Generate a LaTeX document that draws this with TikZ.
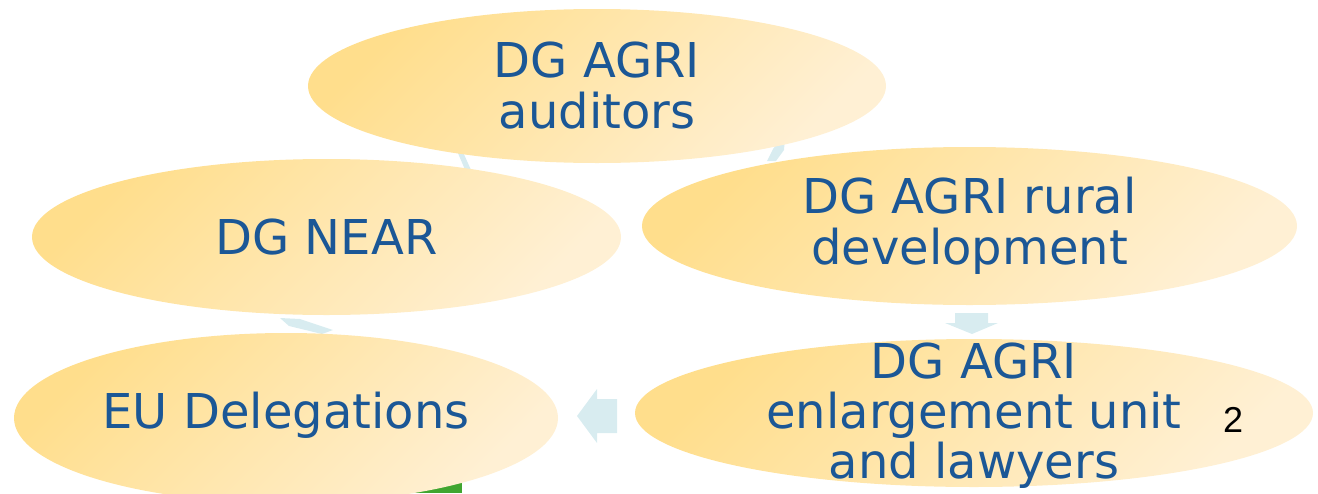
\documentclass[tikz,border=0pt]{standalone}
\usepackage{fontspec}
\setmainfont{DejaVu Sans}
\newfontfamily\numfont{Liberation Sans}
\usetikzlibrary{shapes.geometric}
\definecolor{ellA}{RGB}{255,222,140}
\definecolor{ellB}{RGB}{255,240,212}
\definecolor{txtblue}{RGB}{27,87,150}
\definecolor{arrowblue}{RGB}{216,236,240}
\definecolor{bargreen}{RGB}{64,165,48}
\tikzset{
  ell/.style={ellipse, inner sep=0pt, top color=ellA, bottom color=ellB, shading angle=45,
    text=txtblue, align=center, font=\fontsize{48}{51}\selectfont},
  elltext/.style={text=txtblue, align=center, font=\fontsize{48}{50}\selectfont, inner sep=0pt},
  cyclearrow/.style={fill=arrowblue, draw=none}
}
\begin{document}
\begin{tikzpicture}[x=1pt,y=-1pt]
\useasboundingbox (0,0) rectangle (1318,493);
% arrows (behind the ellipses)
\fill[cyclearrow] (451,137) -- (458,141) -- (476,181) -- (469,179) -- cycle;
\fill[cyclearrow] (786,126) -- (784,150) -- (776,161) -- (767,161) -- (773,149) -- (780,140) -- cycle;
\fill[cyclearrow] (280,318) -- (300,319) -- (333,330) -- (322,334) -- (289,326) -- cycle;
\fill[cyclearrow] (955,313) -- (988,313) -- (988,323) -- (998,323) -- (972,334) -- (945,323) -- (955,323) -- cycle;
\fill[cyclearrow] (617,399) -- (597,399) -- (597,389) -- (577,416) -- (597,443) -- (597,433) -- (617,433) -- cycle;
% green bar
\fill[bargreen] (390,478) rectangle (462,493);
% ellipses
\node[ell, minimum width=578pt, minimum height=154pt] (aud) at (597,86) {DG AGRI\\auditors};
\node[ell, minimum width=589pt, minimum height=156pt] (near) at (326.5,237) {DG NEAR};
\node[ell, minimum width=655pt, minimum height=158pt] (rural) at (969.5,226) {DG AGRI rural\\development};
\node[ell, minimum width=544pt, minimum height=170pt] (eu) at (286,418) {};
\node[elltext] (eutext) at (286,415) {EU Delegations};
\node[ell, minimum width=678pt, minimum height=148pt] (enl) at (974,413) {};
\node[elltext] (enltext) at (974,416) {DG AGRI\\enlargement unit\\and lawyers};
\node[font=\numfont\fontsize{36}{40}\selectfont, text=black] (pagenum) at (1233,420) {2};
\end{tikzpicture}
\end{document}
